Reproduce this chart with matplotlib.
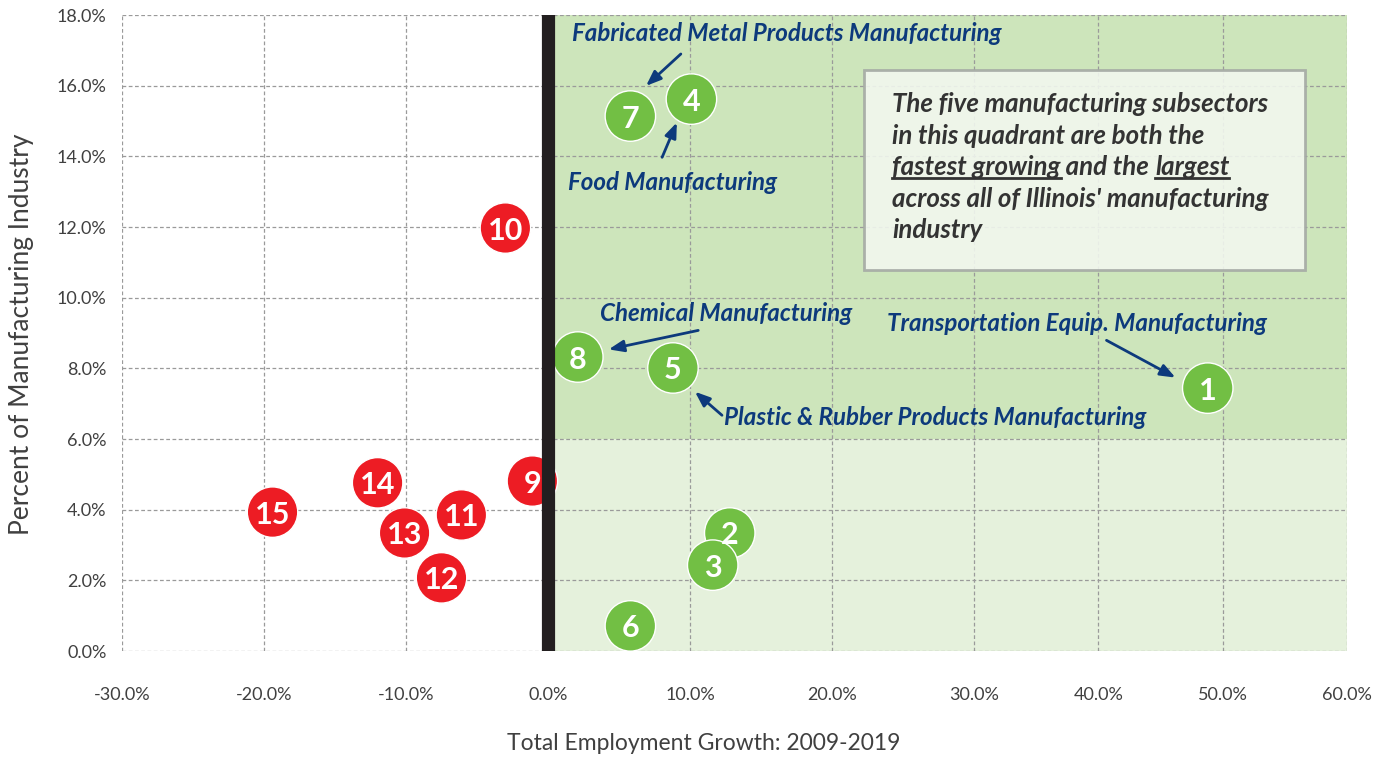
import matplotlib
matplotlib.use("Agg")
import matplotlib.pyplot as plt
import numpy as np

# subsector id, employment growth 2009-2019 (%), share of manufacturing industry (%)
sector_ids = [1, 2, 3, 4, 5, 6, 7, 8, 9, 10, 11, 12, 13, 14, 15]
growth = [48.8, 12.8, 11.6, 10.1, 8.8, 5.8, 5.8, 2.1, -1.1, -3.0, -6.1, -7.5, -10.1, -12.0, -19.4]
share = [7.44, 3.34, 2.43, 15.62, 8.01, 0.71, 15.14, 8.32, 4.81, 11.97, 3.85, 2.07, 3.34, 4.76, 3.93]

x_ticks = [-30, -20, -10, 0, 10, 20, 30, 40, 50, 60]
y_ticks = [0, 2, 4, 6, 8, 10, 12, 14, 16, 18]

GREEN = "#72bf44"
RED = "#ed1c24"
NAVY = "#0d3a7c"
FONT = ["Lato", "DejaVu Sans"]

plt.rcParams["font.family"] = FONT


# the source chart compresses the axis above 30%
def fwd(x):
    x = np.asarray(x, dtype=float)
    return np.where(x <= 30, x, 30 + (x - 30) * 0.8756)


def inv(x):
    x = np.asarray(x, dtype=float)
    return np.where(x <= 30, x, 30 + (x - 30) / 0.8756)


W, H = 1390, 759
fig = plt.figure(figsize=(W / 100, H / 100), dpi=100)
ax = fig.add_axes([122 / W, 1 - 651 / H, (1347 - 122) / W, (651 - 15) / H])
ax.set_xscale("function", functions=(fwd, inv))
ax.set_xlim(-30, 60)
ax.set_ylim(0, 18)

# quadrant shading
ax.fill_between([0, 60], 6, 18, color="#cde5bb", lw=0, zorder=0.2)
ax.fill_between([0, 60], 0, 6, color="#e5f1dc", lw=0, zorder=0.2)

ax.set_axisbelow(True)
ax.grid(True, linestyle=(0, (3, 2)), color="#9a9a9a", lw=0.9)
for s in ax.spines.values():
    s.set_visible(False)

ax.set_xticks(x_ticks)
ax.set_yticks(y_ticks)
ax.set_xticklabels([f"{v:.1f}%" for v in x_ticks])
ax.set_yticklabels([f"{v:.1f}%" for v in y_ticks])
ax.tick_params(length=0, labelsize=13, labelcolor="#404040")
ax.tick_params(axis="x", pad=26)
ax.tick_params(axis="y", pad=11)

fig.text(704 / W, 1 - 743 / H, "Total Employment Growth: 2009-2019",
         ha="center", va="center", fontsize=16.5, color="#404040")
fig.text(22 / W, 1 - 334 / H, "Percent of Manufacturing Industry",
         ha="center", va="center", rotation=90, fontsize=19, color="#404040")

colors = [GREEN if g > 0 else RED for g in growth]
ax.scatter(growth, share, s=1320, c=colors, edgecolors="white", linewidths=1, zorder=3)
for i, g, sh in zip(sector_ids, growth, share):
    ax.text(g, sh, str(i), ha="center", va="center_baseline", color="white",
            fontsize=22, fontweight="bold", zorder=3.5)

# zero growth divider
ax.axvline(0, color="#231f20", lw=9.5, zorder=4)

# callouts
lab_kw = dict(color=NAVY, fontsize=17.4, fontweight="bold", fontstyle="italic",
              ha="left", va="center", zorder=6)
arr_kw = dict(arrowstyle="-|>,head_length=0.9,head_width=0.35", color=NAVY, lw=2)

ax.text(1.69, 17.49, "Fabricated Metal Products Manufacturing", **lab_kw)
ax.annotate("", xy=(6.76, 15.94), xytext=(9.5, 16.95), arrowprops=arr_kw, zorder=6)
ax.text(1.41, 13.27, "Food Manufacturing", **lab_kw)
ax.annotate("", xy=(9.15, 15.03), xytext=(7.96, 13.9), arrowprops=arr_kw, zorder=6)
ax.text(3.66, 9.54, "Chemical Manufacturing", **lab_kw)
ax.annotate("", xy=(4.08, 8.52), xytext=(10.77, 9.09), arrowprops=arr_kw, zorder=6)
ax.text(12.39, 6.62, "Plastic & Rubber Products Manufacturing", **lab_kw)
ax.annotate("", xy=(10.2, 7.39), xytext=(12.4, 6.62), arrowprops=arr_kw, zorder=6)
ax.text(23.87, 9.28, "Transportation Equip. Manufacturing", **lab_kw)
ax.annotate("", xy=(46.4, 7.70), xytext=(40.46, 8.83), arrowprops=arr_kw, zorder=6)

# note box (pixel coordinates of the frame)
box = plt.Rectangle((864 / W, 1 - 270 / H), (1305 - 864) / W, 200 / H,
                    transform=fig.transFigure, facecolor="#f3f8f0", alpha=0.88,
                    edgecolor="#a3a8a3", lw=2, zorder=5)
fig.add_artist(box)

note_kw = dict(color="#333333", fontsize=18.6, fontweight="bold", fontstyle="italic",
               ha="left", va="baseline", zorder=6)
lines = {112: "The five manufacturing subsectors",
         144: "in this quadrant are both the",
         207: "across all of Illinois' manufacturing",
         238: "industry"}
for py, txt in lines.items():
    fig.text(892 / W, 1 - py / H, txt, **note_kw)

fig.canvas.draw()
r = fig.canvas.get_renderer()
cur = 892.0
base = H - 175
for part, ul in [("fastest growing", True), (" and the ", False), ("largest", True)]:
    t = fig.text(cur / W, base / H, part, **note_kw)
    bb = t.get_window_extent(r)
    if ul:
        fig.add_artist(plt.Line2D([bb.x0 / W, bb.x1 / W], [(base - 3) / H] * 2,
                                  transform=fig.transFigure, color="#333333", lw=2, zorder=6))
    cur = bb.x1

fig.savefig("out.png", dpi=100)
